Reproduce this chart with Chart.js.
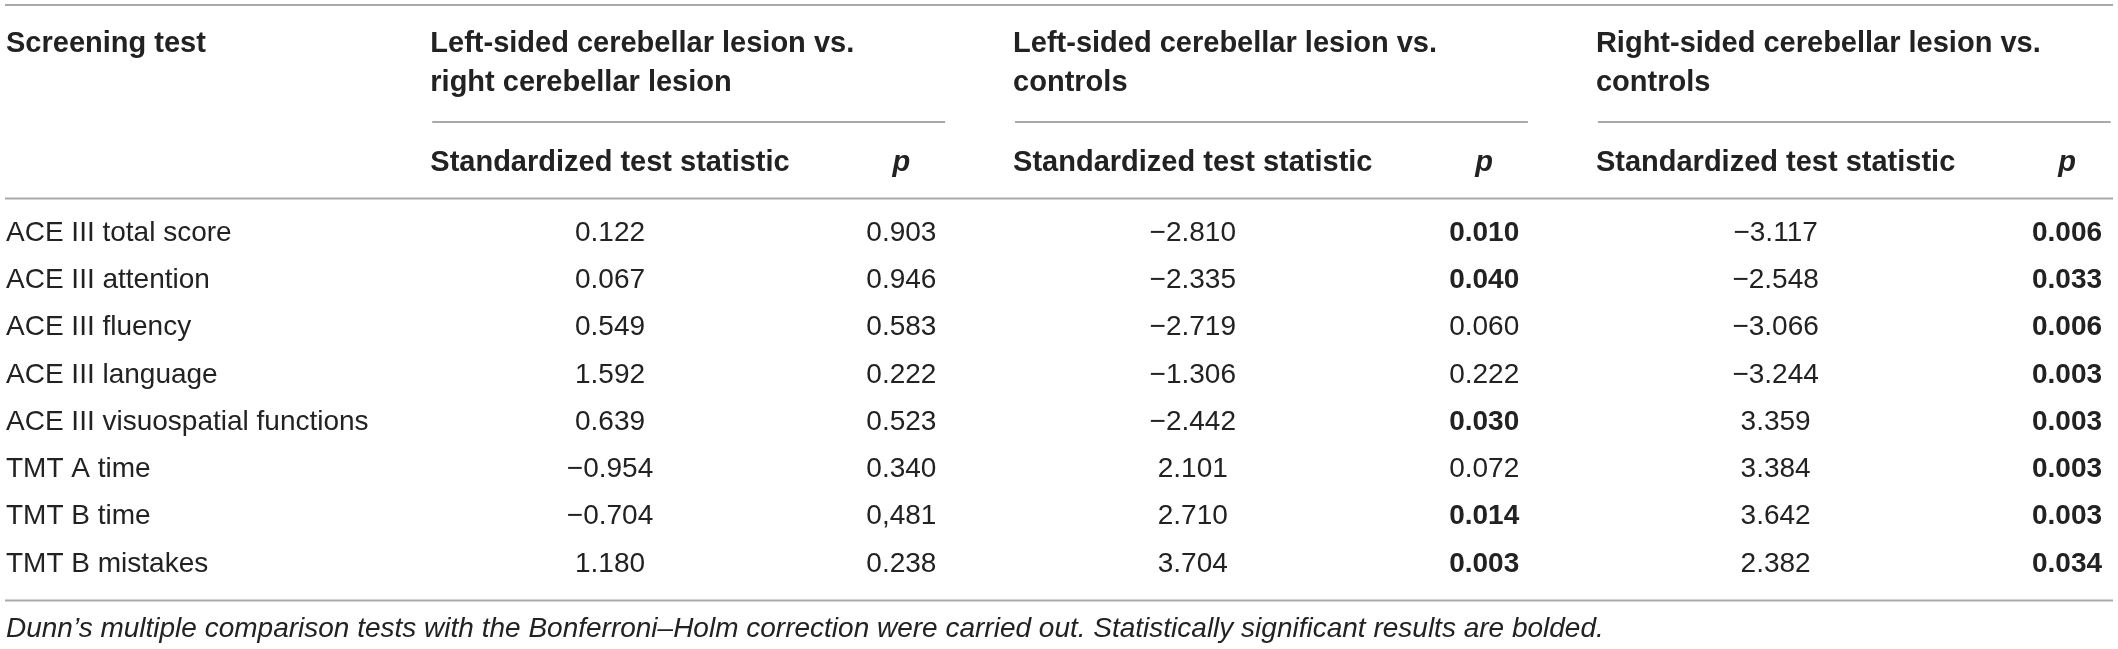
<!DOCTYPE html>
<html>
<head>
<meta charset="utf-8">
<title>Dunn's multiple comparison tests</title>
<script src="https://cdn.jsdelivr.net/npm/chart.js@4/dist/chart.umd.min.js"></script>
<style>
  html, body { margin: 0; padding: 0; background: #fff; }
  canvas { display: block; }
</style>
</head>
<body>
<canvas id="table" width="2118" height="649"></canvas>
<script>
const rowHeader = "Screening test";
const tests = [
    "ACE III total score",
    "ACE III attention",
    "ACE III fluency",
    "ACE III language",
    "ACE III visuospatial functions",
    "TMT A time",
    "TMT B time",
    "TMT B mistakes"
];
const groupHeaders = [
    ["Left-sided cerebellar lesion vs.", "right cerebellar lesion"],
    ["Left-sided cerebellar lesion vs.", "controls"],
    ["Right-sided cerebellar lesion vs.", "controls"]
];
const subHeaders = [
    "Standardized test statistic", "p",
    "Standardized test statistic", "p",
    "Standardized test statistic", "p"
];

const statLeftVsRight = ["0.122", "0.067", "0.549", "1.592", "0.639", "\u22120.954", "\u22120.704", "1.180"];
const pLeftVsRight = ["0.903", "0.946", "0.583", "0.222", "0.523", "0.340", "0,481", "0.238"];
const statLeftVsControls = ["\u22122.810", "\u22122.335", "\u22122.719", "\u22121.306", "\u22122.442", "2.101", "2.710", "3.704"];
const pLeftVsControls = ["0.010", "0.040", "0.060", "0.222", "0.030", "0.072", "0.014", "0.003"];
const statRightVsControls = ["\u22123.117", "\u22122.548", "\u22123.066", "\u22123.244", "3.359", "3.384", "3.642", "2.382"];
const pRightVsControls = ["0.006", "0.033", "0.006", "0.003", "0.003", "0.003", "0.003", "0.034"];

const footnote = "Dunn\u2019s multiple comparison tests with the Bonferroni\u2013Holm correction were carried out. Statistically significant results are bolded.";

const columns = [statLeftVsRight, pLeftVsRight, statLeftVsControls, pLeftVsControls, statRightVsControls, pRightVsControls];
const SIGNIFICANCE = 0.05;

const FAMILY = "'Liberation Sans', Arial, Helvetica, sans-serif";
const TEXT = "#222";
const RULE = "#a9a9a9";

function isSignificant(p) {
    return parseFloat(p.replace(",", ".")) < SIGNIFICANCE;
}

// cells, rules and group headers
const tablePlugin = {
    id: "tableText",
    afterDatasetsDraw(chart) {
        const { ctx, scales: { x, y } } = chart;
        const step = x.getPixelForValue(1) - x.getPixelForValue(0);
        const left = y.left - 1;
        const right = chart.width - 5;

        ctx.save();
        ctx.fillStyle = TEXT;
        ctx.textBaseline = "middle";
        ctx.textAlign = "center";

        columns.forEach((col, c) => {
            const meta = chart.getDatasetMeta(c);
            const isP = c % 2 === 1;
            meta.data.forEach((pt, i) => {
                const bold = isP && isSignificant(col[i]);
                ctx.font = (bold ? "bold " : "") + "28px " + FAMILY;
                ctx.fillText(col[i], pt.x, pt.y);
            });
        });

        // horizontal rules
        ctx.strokeStyle = RULE;
        ctx.lineWidth = 2;
        const hline = (x0, x1, yy) => {
            ctx.beginPath();
            ctx.moveTo(x0, yy);
            ctx.lineTo(x1, yy);
            ctx.stroke();
        };
        hline(left, right, 5);
        hline(left, right, chart.chartArea.top - 11);
        hline(left, right, chart.chartArea.bottom + 13);

        // header
        ctx.textAlign = "left";
        ctx.textBaseline = "alphabetic";
        ctx.font = "bold 29px " + FAMILY;
        ctx.fillText(rowHeader, y.left, 52);

        groupHeaders.forEach((lines, g) => {
            const statX = x.getPixelForValue(2 * g);
            const pX = x.getPixelForValue(2 * g + 1);
            ctx.font = "bold 29px " + FAMILY;
            const gx = statX - ctx.measureText(subHeaders[2 * g]).width / 2;
            lines.forEach((line, k) => ctx.fillText(line, gx, 52 + k * 39));
            hline(statX - 0.61 * step, pX + 0.15 * step, 122);
        });

        ctx.font = "italic 28px " + FAMILY;
        ctx.fillText(footnote, y.left, 637);
        ctx.restore();
    }
};

const chart = new Chart(document.getElementById("table"), {
    type: "scatter",
    data: {
        datasets: columns.map((col, c) => ({
            label: subHeaders[c],
            data: tests.map(t => ({ x: c, y: t })),
            pointRadius: 0,
            pointHoverRadius: 0
        }))
    },
    options: {
        responsive: false,
        animation: false,
        events: [],
        layout: { padding: { top: 0, left: 6, right: 51, bottom: 61.4 } },
        plugins: {
            legend: { display: false },
            tooltip: { enabled: false }
        },
        scales: {
            x: {
                type: "linear",
                position: "top",
                min: 0,
                max: columns.length - 1,
                grid: { display: false, drawTicks: false },
                border: { display: false },
                ticks: {
                    stepSize: 1,
                    autoSkip: false,
                    maxRotation: 0,
                    minRotation: 0,
                    padding: 29,
                    color: TEXT,
                    callback: v => subHeaders[v],
                    font: c => ({
                        family: FAMILY,
                        size: 29,
                        weight: "bold",
                        style: subHeaders[c.index] === "p" ? "italic" : "normal"
                    })
                },
                afterFit: s => { s.height = 209.4; }
            },
            y: {
                type: "category",
                labels: tests,
                offset: true,
                grid: { display: false, drawTicks: false },
                border: { display: false },
                ticks: {
                    autoSkip: false,
                    crossAlign: "far",
                    padding: 0,
                    color: TEXT,
                    font: { family: FAMILY, size: 28 }
                },
                afterFit: s => { s.width = 604; }
            }
        }
    },
    plugins: [tablePlugin]
});
</script>
</body>
</html>
